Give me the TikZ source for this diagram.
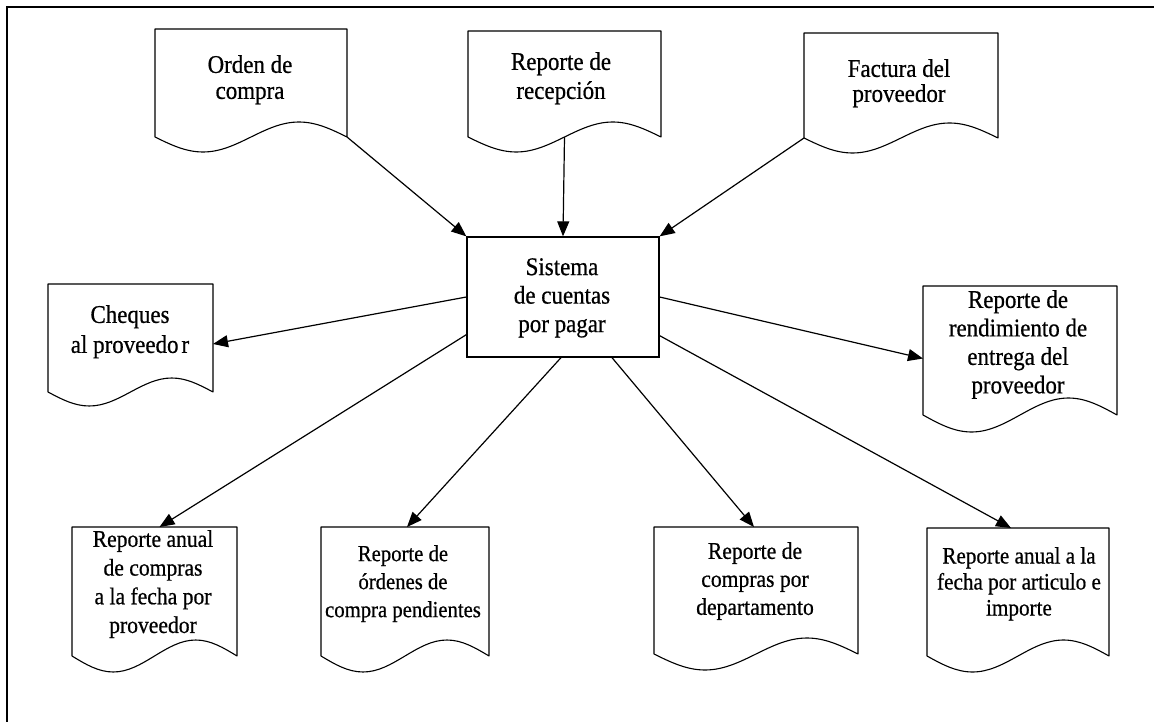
\documentclass[tikz,border=0pt]{standalone}
\usepackage{fontspec}
\setmainfont{Liberation Serif}[FakeStretch=0.9,FakeBold=0.6]
\usetikzlibrary{arrows.meta,calc}

% outline of a document symbol: straight sides, wavy bottom edge
\newcommand{\docwave}[2]{%
  \draw[docline] (#1.south west) -- (#1.north west) -- (#1.north east) -- (#1.south east)
    sin ($(#1.south east)!0.25!(#1.south west)+(0,-#2)$)
    cos ($(#1.south east)!0.5!(#1.south west)$)
    sin ($(#1.south east)!0.75!(#1.south west)+(0,#2)$)
    cos (#1.south west) -- cycle;}

\tikzset{
  docbox/.style 2 args={rectangle, inner sep=0pt, outer sep=0pt,
    minimum width=#1pt, minimum height=#2pt},
  docline/.style={line width=1.1pt, line join=round},
  txt/.style 2 args={anchor=north, inner sep=0pt, align=center,
    font=\fontsize{#1}{#2}\selectfont},
  flow/.style={line width=1.2pt, -{Triangle[length=15pt,width=12pt]}},
  frameline/.style={line width=2pt},
}

\begin{document}
\begin{tikzpicture}[x=1pt,y=-1pt]
  \useasboundingbox[fill=white] (0,0) rectangle (1154,722);

  % page frame (top and left edges)
  \draw[frameline] (7,722) -- (7,7) -- (1154,7);

  % input documents
  \node[docbox={192}{108}] (ord) at (251,83) {};
  \node[docbox={193}{106}] (rec) at (564.5,84) {};
  \node[docbox={194}{105}] (fac) at (901,85.5) {};
  \docwave{ord}{15}
  \docwave{rec}{15}
  \docwave{fac}{15}
  \node[txt={25.5}{26}] (ord-t) at (250,55) {Orden de\\compra};
  \node[txt={25.5}{29}] (rec-t) at (561,52) {Reporte de\\recepción};
  \node[txt={25.5}{25}] (fac-t) at (899,59) {Factura del\\proveedor};

  % central process
  \node[draw, line width=1.3pt, rectangle, inner sep=0pt,
        minimum width=192pt, minimum height=120pt] (sys) at (563,297) {};
  \node[txt={25.5}{28.5}] (sys-t) at (562,258) {Sistema\\de cuentas\\por pagar};

  % side outputs
  \node[docbox={165}{108}] (chq) at (130.5,338) {};
  \node[docbox={194}{129}] (ren) at (1020,350.5) {};
  \docwave{chq}{14}
  \docwave{ren}{17}
  \node[txt={25.5}{30}] (chq-t) at (130,305) {Cheques\\al proveedo\kern3pt r};
  \node[txt={25.5}{28.5}] (ren-t) at (1018,290)
    {Reporte de\\rendimiento de\\entrega del\\proveedor};

  % bottom row of reports
  \node[docbox={165}{129}] (rpa) at (154.5,591.5) {};
  \node[docbox={168}{129}] (rpb) at (405,591.5) {};
  \node[docbox={204}{127}] (rpc) at (756,590.5) {};
  \node[docbox={182}{128}] (rpd) at (1018,592) {};
  \docwave{rpa}{16}
  \docwave{rpb}{16}
  \docwave{rpc}{16}
  \docwave{rpd}{16}
  \node[txt={24}{28.7}] (rpa-t) at (153,530)
    {Reporte anual\\de compras\\a la fecha por\\proveedor};
  \node[txt={23}{28}] (rpb-t) at (403,545)
    {Reporte de\\órdenes de\\compra pendientes};
  \node[txt={24}{28}] (rpc-t) at (755,542)
    {Reporte de\\compras por\\departamento};
  \node[txt={23.5}{26}] (rpd-t) at (1019,547)
    {Reporte anual a la\\fecha por articulo e\\importe};

  % inputs into the system
  \draw[flow] (ord.south east) -- (sys.north west);
  \draw[flow] (rec.south) -- (sys.north);
  \draw[flow] (fac.south west) -- (sys.north east);

  % outputs from the system
  \draw[flow] (sys.west) -- ([yshift=-6pt]chq.east);
  \draw[flow] (sys.east) -- ([yshift=-8pt]ren.west);
  \draw[flow] ([yshift=23pt]sys.south west) -- ([xshift=5pt]rpa.north);
  \draw[flow] ([xshift=-2pt]sys.south) -- ([xshift=2pt]rpb.north);
  \draw[flow] ([xshift=49pt]sys.south) -- ([xshift=-2pt]rpc.north);
  \draw[flow] ([yshift=22pt]sys.south east) -- ([xshift=-7pt]rpd.north);
\end{tikzpicture}
\end{document}
